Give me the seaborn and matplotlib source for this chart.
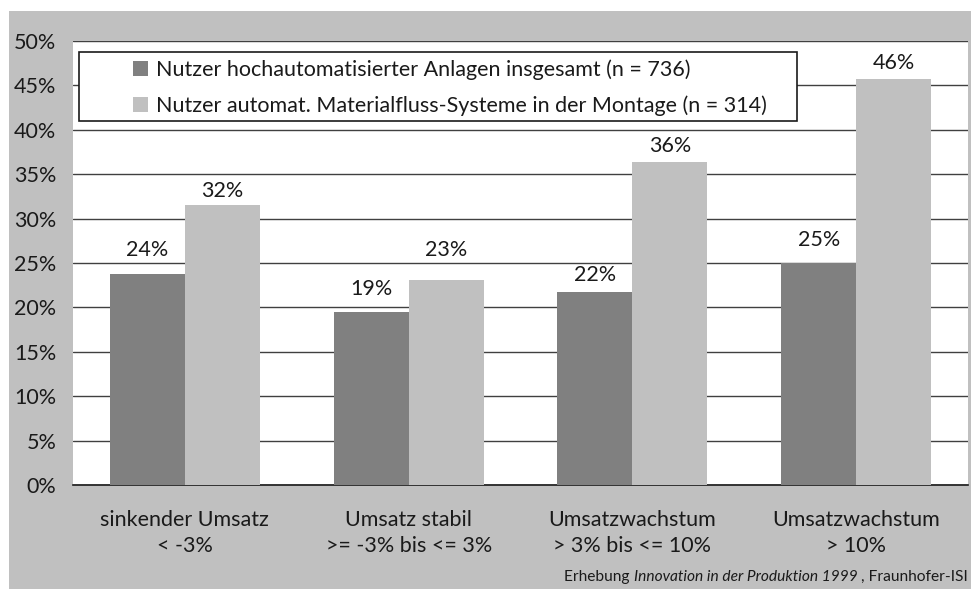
import matplotlib
matplotlib.use("Agg")
import matplotlib.pyplot as plt
from matplotlib.patches import Rectangle
import seaborn as sns
import pandas as pd

categories = ["sinkender Umsatz\n< -3%", "Umsatz stabil\n>= -3% bis <= 3%",
              "Umsatzwachstum\n> 3% bis <= 10%", "Umsatzwachstum\n> 10%"]
series_names = ["Nutzer hochautomatisierter Anlagen insgesamt (n = 736)",
                "Nutzer automat. Materialfluss-Systeme in der Montage (n = 314)"]
values_all = [23.8, 19.5, 21.7, 25.0]
values_montage = [31.5, 23.1, 36.4, 45.7]
labels_all = ["24%", "19%", "22%", "25%"]
labels_montage = ["32%", "23%", "36%", "46%"]
yticks = [0, 5, 10, 15, 20, 25, 30, 35, 40, 45, 50]
ytick_labels = ["0%", "5%", "10%", "15%", "20%", "25%", "30%", "35%", "40%", "45%", "50%"]

df = pd.DataFrame({
    "cat": categories * 2,
    "series": [series_names[0]] * 4 + [series_names[1]] * 4,
    "val": values_all + values_montage,
})

sns.set_theme(style="white")
plt.rcParams["font.family"] = ["Lato", "DejaVu Sans"]

FS = 15.5
W, H = 971, 589
fig = plt.figure(figsize=(W / 100, H / 100), dpi=100, facecolor="white")
fig.patches.append(Rectangle((9 / W, 0), (W - 9) / W, (H - 11) / H,
                             transform=fig.transFigure, facecolor="#c0c0c0",
                             edgecolor="none", zorder=-10))

x0, x1, ytop, ybot = 73, 968, 41, 485
ax = fig.add_axes([x0 / W, (H - ybot) / H, (x1 - x0) / W, (ybot - ytop) / H])
ax.set_facecolor("white")

palette = ["#808080", "#c0c0c0"]
sns.barplot(data=df, x="cat", y="val", hue="series", palette=palette,
            width=0.67, gap=0, saturation=1, ax=ax, legend=False,
            edgecolor="none", linewidth=0, zorder=3)

ax.set_ylim(0, 50)
ax.set_xlim(-0.5, 3.5)
ax.set_yticks(yticks)
ax.set_yticklabels(ytick_labels)
ax.yaxis.grid(True, color="#404040", linewidth=1.0, zorder=0)
ax.set_axisbelow(True)
for s in ["left", "right", "top"]:
    ax.spines[s].set_visible(False)
ax.spines["bottom"].set_color("#1a1a1a")
ax.spines["bottom"].set_linewidth(1.2)
ax.set_xlabel("")
ax.set_ylabel("")
ax.tick_params(axis="both", length=0, labelsize=FS, colors="#1a1a1a")
ax.tick_params(axis="y", pad=12)
ax.tick_params(axis="x", pad=18)
for t in ax.get_xticklabels():
    t.set_linespacing(1.4)

# label offsets above bar tops (points), as placed in the reference
label_pads = [[9.7, 9, 5, 9], [3.2, 14, 4, 4.7]]
for cont, labs, pads in zip(ax.containers, [labels_all, labels_montage], label_pads):
    for patch, lab, pad in zip(cont.patches, labs, pads):
        ax.annotate(lab, xy=(patch.get_x() + patch.get_width() / 2, patch.get_height()),
                    xytext=(0, pad), textcoords="offset points", ha="center",
                    va="bottom", fontsize=FS, color="#1a1a1a", zorder=4)

# legend box
def px2ax(px, py):
    return ((px - x0) / (x1 - x0), (ybot - py) / (ybot - ytop))

bx, by = px2ax(79, 121)
bx2, by2 = px2ax(797, 52)
ax.add_patch(Rectangle((bx, by), bx2 - bx, by2 - by, transform=ax.transAxes,
                       facecolor="white", edgecolor="#1a1a1a", linewidth=1.2,
                       zorder=5))
handles = [Rectangle((0, 0), 1, 1, facecolor=c, edgecolor="none") for c in palette]
lx, ly = px2ax(127, 53)
leg = ax.legend(handles, series_names, loc="upper left", bbox_to_anchor=(lx, ly),
                frameon=False, fontsize=FS, handlelength=0.68, handleheight=0.68,
                handletextpad=0.35, labelspacing=0.72, borderpad=0.3,
                borderaxespad=0)
leg.set_zorder(6)
for t in leg.get_texts():
    t.set_color("#1a1a1a")

# footer
footer_parts = [("Erhebung ", "normal"), ("Innovation in der Produktion 1999", "italic"),
                (" , Fraunhofer-ISI", "normal")]
renderer = fig.canvas.get_renderer()
xpos = 968
for txt, style in reversed(footer_parts):
    t = fig.text(xpos / W, 1 - 581 / H, txt, ha="right", va="baseline",
                 fontsize=11.2, fontstyle=style, color="#1a1a1a")
    bb = t.get_window_extent(renderer=renderer)
    xpos -= bb.width

fig.savefig("out.png", dpi=100, facecolor="white")
